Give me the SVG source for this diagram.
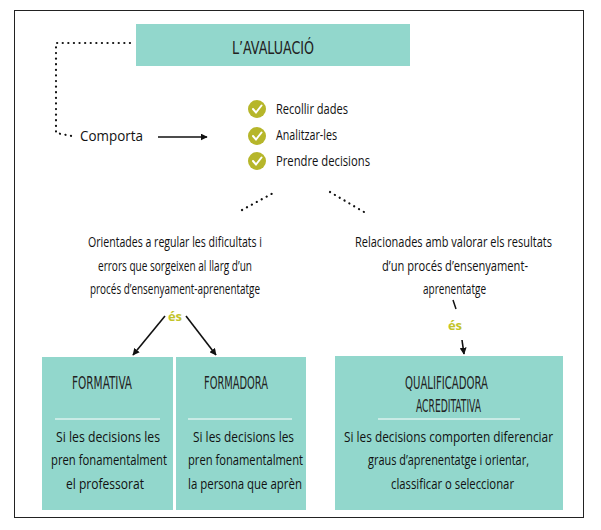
<svg xmlns="http://www.w3.org/2000/svg" width="601" height="530" viewBox="0 0 601 530">
<style>
text{font-family:"Open Sans","Liberation Sans",sans-serif;fill:#111}
.t{font-size:14px}
.h{font-family:"DejaVu Sans Condensed","Liberation Sans Narrow","Liberation Sans",sans-serif;font-size:18px;fill:#222}
.box{fill:#92d7cc}
.dot{stroke:#111;stroke-width:2.2;stroke-dasharray:0.1 5.5;stroke-linecap:round;fill:none}
.ar{stroke:#111;stroke-width:1.6;fill:none;marker-end:url(#a)}
.es{fill:#c3c42a;font-weight:bold;font-size:13px}
</style>
<defs>
<marker id="a" viewBox="0 0 10 10" refX="9" refY="5" markerWidth="7" markerHeight="7" orient="auto-start-reverse" markerUnits="userSpaceOnUse"><path d="M0,0L10,5L0,10z" fill="#111"/></marker>
<g id="chk"><circle r="9" fill="#b6b62a"/><path d="M-4,0L-1,3.5L4.5,-3.5" stroke="#fff" stroke-width="2" fill="none" stroke-linecap="round"/></g>
</defs>
<rect width="601" height="530" fill="#fff"/>
<rect x="14.5" y="10.5" width="569" height="507" fill="none" stroke="#222" stroke-width="1"/>
<g id="title"><rect class="box" x="136" y="24" width="274" height="42"/><text class="h" x="232" y="54" font-size="21" textLength="82" lengthAdjust="spacingAndGlyphs">L’AVALUACIÓ</text></g>
<g id="comporta"><text x="80" y="141" font-size="15" textLength="63" lengthAdjust="spacingAndGlyphs">Comporta</text></g>
<g id="steps">
<use href="#chk" x="257" y="109"/><text class="t" x="276" y="114" textLength="72" lengthAdjust="spacingAndGlyphs">Recollir dades</text>
<use href="#chk" x="257" y="136"/><text class="t" x="276" y="140" textLength="61" lengthAdjust="spacingAndGlyphs">Analitzar-les</text>
<use href="#chk" x="257" y="161"/><text class="t" x="276" y="166" textLength="94" lengthAdjust="spacingAndGlyphs">Prendre decisions</text>
</g>
<g id="left-text" class="t">
<text x="88" y="247" textLength="174" lengthAdjust="spacingAndGlyphs">Orientades a regular les dificultats i</text>
<text x="98" y="271" textLength="154" lengthAdjust="spacingAndGlyphs">errors que sorgeixen al llarg d’un</text>
<text x="90" y="294" textLength="170" lengthAdjust="spacingAndGlyphs">procés d’ensenyament-aprenentatge</text>
</g>
<g id="right-text" class="t">
<text x="355" y="247" textLength="197" lengthAdjust="spacingAndGlyphs">Relacionades amb valorar els resultats</text>
<text x="382" y="271" textLength="146" lengthAdjust="spacingAndGlyphs">d’un procés d’ensenyament-</text>
<text x="423" y="294" textLength="63" lengthAdjust="spacingAndGlyphs">aprenentatge</text>
</g>
<g id="formativa"><rect class="box" x="42" y="357" width="131" height="153"/>
<text class="h" x="72" y="389" textLength="60" lengthAdjust="spacingAndGlyphs">FORMATIVA</text>
<line x1="55" y1="419" x2="160" y2="419" stroke="#fff" stroke-width="1"/>
<g class="t"><text x="56" y="442" textLength="104" lengthAdjust="spacingAndGlyphs">Si les decisions les</text><text x="51" y="465" textLength="116" lengthAdjust="spacingAndGlyphs">pren fonamentalment</text><text x="66" y="489" textLength="78" lengthAdjust="spacingAndGlyphs">el professorat</text></g></g>
<g id="formadora"><rect class="box" x="176" y="357" width="130" height="153"/>
<text class="h" x="204" y="389" textLength="64" lengthAdjust="spacingAndGlyphs">FORMADORA</text>
<line x1="188" y1="419" x2="292" y2="419" stroke="#fff" stroke-width="1"/>
<g class="t"><text x="193" y="442" textLength="101" lengthAdjust="spacingAndGlyphs">Si les decisions les</text><text x="188" y="465" textLength="115" lengthAdjust="spacingAndGlyphs">pren fonamentalment</text><text x="188" y="489" textLength="114" lengthAdjust="spacingAndGlyphs">la persona que aprèn</text></g></g>
<g id="qualificadora"><rect class="box" x="335" y="356" width="228" height="154"/>
<text class="h" x="405" y="389" textLength="83" lengthAdjust="spacingAndGlyphs">QUALIFICADORA</text>
<text class="h" x="416" y="412" textLength="65" lengthAdjust="spacingAndGlyphs">ACREDITATIVA</text>
<line x1="378" y1="419" x2="520" y2="419" stroke="#fff" stroke-width="1"/>
<g class="t"><text x="344" y="442" textLength="209" lengthAdjust="spacingAndGlyphs">Si les decisions comporten diferenciar</text><text x="368" y="465" textLength="161" lengthAdjust="spacingAndGlyphs">graus d’aprenentatge i orientar,</text><text x="391" y="489" textLength="123" lengthAdjust="spacingAndGlyphs">classificar o seleccionar</text></g></g>
<g id="connectors">
<polyline class="dot" points="130,43 56,43 56,133 72,136"/>
<line x1="158" y1="137" x2="207" y2="137" stroke="#111" stroke-width="1.3" marker-end="url(#a)"/>
<line class="dot" x1="242" y1="210" x2="275" y2="192"/>
<line class="dot" x1="330" y1="192" x2="364" y2="212"/>
<line class="ar" x1="165" y1="316" x2="133" y2="355"/>
<line class="ar" x1="186" y1="316" x2="216" y2="355"/>
<line x1="453" y1="300" x2="456" y2="309" stroke="#111" stroke-width="1.5"/>
<line class="ar" x1="462" y1="340" x2="464" y2="354"/>
<text class="es" x="175" y="321" text-anchor="middle">és</text>
<text class="es" x="455" y="330" text-anchor="middle">és</text>
</g>
</svg>
